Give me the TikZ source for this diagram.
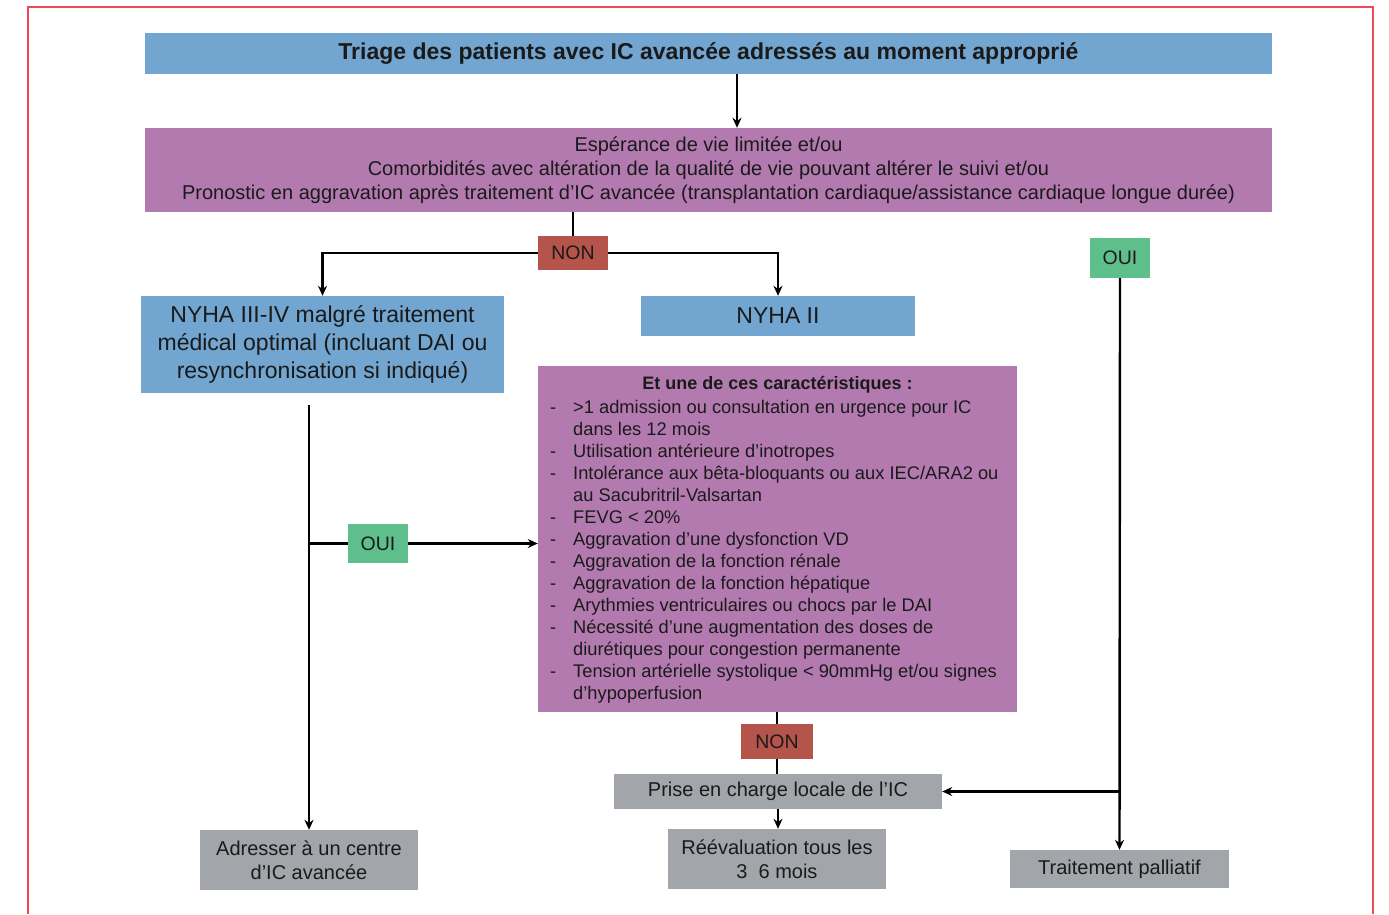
\documentclass[tikz,border=0pt]{standalone}
\usepackage{fontspec}
\setmainfont{Liberation Sans}
\usetikzlibrary{arrows.meta}
\definecolor{frameRed}{HTML}{EE4A55}
\definecolor{boxBlue}{HTML}{72A5CF}
\definecolor{boxPurple}{HTML}{B37AB0}
\definecolor{boxRed}{HTML}{B5544B}
\definecolor{boxGreen}{HTML}{5EBF8D}
\definecolor{boxGray}{HTML}{A2A6AA}
\definecolor{ink}{HTML}{1A1A1A}
\begin{document}
\begin{tikzpicture}[x=1pt,y=-1pt,
  box/.style={rectangle, inner sep=0pt, text=ink, align=center},
  bluebox/.style={box, fill=boxBlue},
  purplebox/.style={box, fill=boxPurple},
  nonbox/.style={box, fill=boxRed, font=\fontsize{19.5}{23}\selectfont},
  ouibox/.style={box, fill=boxGreen, font=\fontsize{19.5}{23}\selectfont},
  graybox/.style={box, fill=boxGray, font=\fontsize{20}{24}\selectfont},
  link/.style={line width=2.4pt, draw=black},
  arr/.style={link, -{Stealth[length=10pt,width=9pt]}}]
\useasboundingbox (0,0) rectangle (1389,914);

% outer frame, open at the bottom
\draw[frameRed, line width=1.5pt] (28,914) -- (28,7) -- (1373,7) -- (1373,914);

% boxes
\node[bluebox, minimum width=1127, minimum height=41, font=\bfseries\fontsize{23}{27}\selectfont]
  (title) at (708.5,53.5) {\raisebox{-2pt}{Triage des patients avec IC avancée adressés au moment approprié}};
\node[purplebox, minimum width=1127, minimum height=84, font=\fontsize{20}{24}\selectfont]
  (cond) at (708.5,170) {Espérance de vie limitée et/ou\\
  Comorbidités avec altération de la qualité de vie pouvant altérer le suivi et/ou\\
  Pronostic en aggravation après traitement d’IC avancée (transplantation cardiaque/assistance cardiaque longue durée)};
\node[nonbox, minimum width=70, minimum height=34] (non1) at (573,253) {NON};
\node[bluebox, minimum width=363, minimum height=97, font=\fontsize{23}{28}\selectfont]
  (nyha34) at (322.5,344.5) {NYHA III-IV malgré traitement\\médical optimal (incluant DAI ou\\resynchronisation si indiqué)};
\node[bluebox, minimum width=274, minimum height=40, font=\fontsize{23}{28}\selectfont]
  (nyha2) at (778,316) {NYHA II};
\node[ouibox, minimum width=60, minimum height=40] (oui2) at (1120,258) {OUI};
\node[purplebox, minimum width=479, minimum height=346] (crit) at (777.5,539) {};
\node[text=ink, font=\bfseries\fontsize{18}{22}\selectfont, anchor=base]
  (crithead) at (777.5,389.5) {Et une de ces caractéristiques :};
\node[text=ink, inner sep=0pt, anchor=base west, font=\fontsize{18.3}{22}\selectfont]
  (critlist) at (550,413) {\begin{tabular}[t]{@{}p{23pt}@{}l@{}}
  - & >1 admission ou consultation en urgence pour IC\\
    & dans les 12 mois\\
  - & Utilisation antérieure d’inotropes\\
  - & Intolérance aux bêta-bloquants ou aux IEC/ARA2 ou\\
    & au Sacubritril-Valsartan\\
  - & FEVG < 20\%\\
  - & Aggravation d’une dysfonction VD\\
  - & Aggravation de la fonction rénale\\
  - & Aggravation de la fonction hépatique\\
  - & Arythmies ventriculaires ou chocs par le DAI\\
  - & Nécessité d’une augmentation des doses de\\
    & diurétiques pour congestion permanente\\
  - & Tension artérielle systolique < 90mmHg et/ou signes\\
    & d’hypoperfusion
  \end{tabular}};
\node[ouibox, minimum width=60, minimum height=39] (oui1) at (378,543.5) {OUI};
\node[nonbox, minimum width=72, minimum height=35] (non2) at (777,741.5) {NON};
\node[graybox, minimum width=328, minimum height=35] (prise) at (778,791.5) {Prise en charge locale de l’IC};
\node[graybox, minimum width=218, minimum height=60] (reeval) at (777,859) {Réévaluation tous les\\3\hspace{0.55em}6 mois};
\node[graybox, minimum width=218, minimum height=60] (adresser) at (309,860) {Adresser à un centre\\d’IC avancée};
\node[graybox, minimum width=219, minimum height=38] (pall) at (1119.5,869) {Traitement palliatif};

% connectors
\draw[arr] ([xshift=28.5pt]title.south) -- ([xshift=28.5pt]cond.north);
\draw[link] (cond.south -| non1) -- (non1.north);
\draw[arr] (non1.west) -| (nyha34.north);
\draw[arr] (non1.east) -| (nyha2.north);
\draw[arr] (oui2.south) -- (pall.north);
\draw[arr] (oui2.south |- prise.east) -- (prise.east);
\draw[arr] ([yshift=-12pt]nyha34.south -| adresser.north) -- (adresser.north);
\draw[link] (adresser.north |- oui1.west) -- (oui1.west);
\draw[arr] (oui1.east) -- (oui1.east -| crit.west);
\draw[link] (crit.south -| non2) -- (non2.north);
\draw[link] (non2.south) -- (non2.south |- prise.north);
\draw[arr] (prise.south) -- (prise.south |- reeval.north);
\end{tikzpicture}
\end{document}
